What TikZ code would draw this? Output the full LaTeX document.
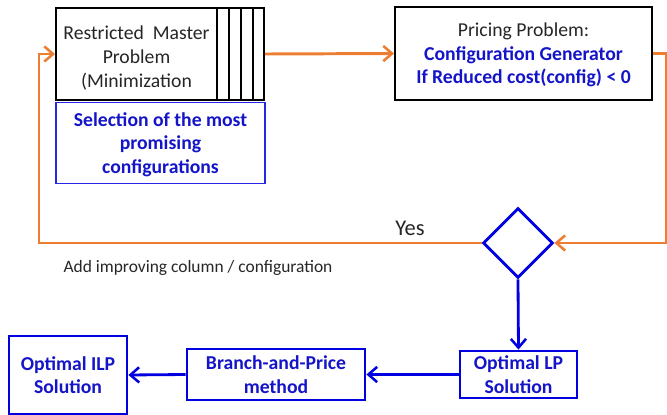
\documentclass[tikz,border=0pt]{standalone}
\usepackage{fontspec}
\setmainfont{Carlito}
\usetikzlibrary{shapes.geometric,arrows.meta}
\definecolor{loopor}{RGB}{237,125,49}
\definecolor{flowbl}{RGB}{0,0,225}
\definecolor{txtbl}{RGB}{20,20,200}
\tikzset{
  blackbox/.style={draw=black, line width=1.4pt, fill=white, inner sep=0pt},
  bluebox/.style={draw=flowbl, line width=2pt, fill=white, inner sep=0pt,
    align=center, text=txtbl, text depth=0pt,
    font=\fontsize{14}{16.8}\selectfont\bfseries},
  orangeline/.style={draw=loopor, line width=2.1pt,
    -{Straight Barb[length=2.2mm,width=3.8mm,line width=1.8pt]}},
  blueline/.style={draw=flowbl, line width=2pt,
    -{Straight Barb[length=2.2mm,width=3.8mm,line width=1.8pt]}}
}
\begin{document}
\begin{tikzpicture}[x=0.025cm, y=-0.025cm]
  \useasboundingbox (0,0) rectangle (667,415);

  % Restricted master problem with its columns
  \node[blackbox, minimum width=5.2cm, minimum height=2.3cm] (rmp) at (160,54) {};
  \node[align=center, text=black!85, font=\fontsize{14}{16.8}\selectfont]
    (rmptext) at (136.5,58) {Restricted\ \ Master\\Problem\\(Minimization};
  \foreach \x in {217,229,241,253}
    \draw[line width=1.2pt] (\x,8) -- (\x,100);

  % Selection box below it
  \node[
    draw=flowbl!85,
    line width=0.8pt,
    minimum width=5.225cm,
    minimum height=2.025cm,
    align=center,
    text=txtbl,
    text depth=0pt,
    font=\fontsize{14}{16.8}\selectfont\bfseries
  ] (select) at (160.5,143) {Selection of the most\\promising\\configurations};

  % Pricing problem
  \node[blackbox, minimum width=6.425cm, minimum height=2.325cm, align=center,
    text depth=0pt, font=\fontsize{14}{16.8}\selectfont] (pricing) at (523.5,53.5)
    {\textcolor{black!85}{Pricing Problem:}\\
     {\color{txtbl}\bfseries Configuration Generator}\\
     {\color{txtbl}\bfseries If Reduced cost(config) < 0}};

  % Decision
  \node[
    diamond,
    draw=flowbl,
    line width=2pt,
    minimum width=1.75cm,
    minimum height=1.75cm,
    inner sep=0pt
  ] (dec) at (518,243) {};

  % Bottom row
  \node[bluebox, minimum width=2.925cm, minimum height=1.175cm] (lp) at (518.5,374.5)
    {Optimal LP\\Solution};
  \node[bluebox, minimum width=4.45cm, minimum height=1.275cm] (bp) at (276,374.5)
    {Branch-and-Price\\method};
  \node[bluebox, minimum width=2.95cm, minimum height=1.95cm] (ilp) at (68,375)
    {Optimal ILP\\Solution};

  % Labels
  \node[text=black!85, font=\fontsize{16}{18}\selectfont] (yes) at (410,228) {Yes};
  \node[text=black!85, font=\fontsize{12.4}{14}\selectfont] (addcol) at (198,268)
    {Add improving column / configuration};

  % Column generation loop
  \draw[orangeline] (rmp.east) -- (pricing.west);
  \draw[orangeline] (pricing.east) -- (666,53.5) |- (dec.east);
  \draw[orangeline] (dec.west) -- (39,243) |- (rmp.west);

  % Towards the integer solution
  \draw[blueline] (dec.south) -- (lp.north);
  \draw[blueline] (lp.west) -- (bp.east);
  \draw[blueline] (bp.west) -- (ilp.east);
\end{tikzpicture}
\end{document}
